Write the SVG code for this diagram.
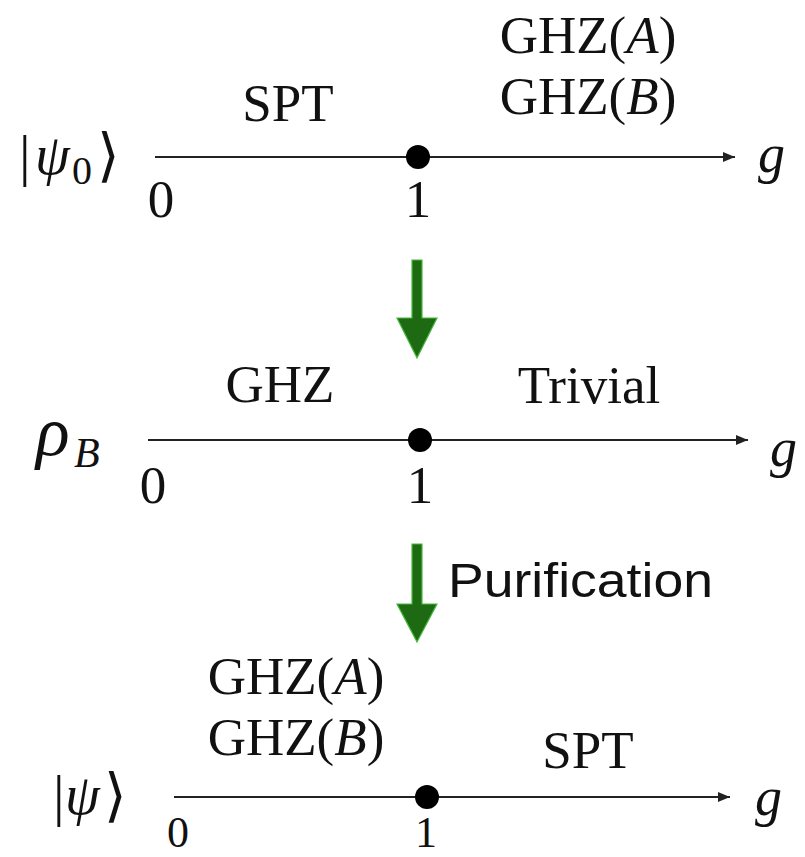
<svg xmlns="http://www.w3.org/2000/svg" width="805" height="857" viewBox="0 0 805 857">
<style>
.m{font-family:"Liberation Serif","DejaVu Serif",serif;fill:#111;}
.lab{font-size:53px;text-anchor:middle;}
.i{font-style:italic;}
.ax{stroke:#222;stroke-width:2;fill:none;}
.dot{fill:#000;}
.garrow{fill:#1d6a12;stroke:#46b83c;stroke-width:1.2;}
.sans{font-family:"Liberation Sans",Arial,sans-serif;fill:#111;}
</style>
<defs>
<marker id="ah" viewBox="0 0 12 10" refX="12" refY="5" markerWidth="12" markerHeight="10" markerUnits="userSpaceOnUse" orient="auto">
<path d="M0,0 L12,5 L0,10 Z" fill="#222"/>
</marker>
</defs>
<rect width="805" height="857" fill="#fff"/>

<g id="connectors">
<line class="ax" x1="155" y1="157" x2="735" y2="157" marker-end="url(#ah)"/>
<line class="ax" x1="148" y1="440" x2="748" y2="440" marker-end="url(#ah)"/>
<line class="ax" x1="174" y1="797" x2="730" y2="797" marker-end="url(#ah)"/>
<polygon id="arrow1" class="garrow" points="412,260 422,260 422,318 437,318 417,358 397,318 412,318"/>
<polygon id="arrow2" class="garrow" points="412,544 422,544 422,604 437,604 417,642 397,604 412,604"/>
</g>

<g id="row1">
<text class="m" x="19" y="175" font-size="58">|</text>
<text class="m i" x="35" y="174" font-size="56">ψ</text>
<text class="m" x="72" y="184" font-size="40">0</text>
<text class="m" x="97" y="175" font-size="58">⟩</text>
<text class="m lab" x="288" y="121">SPT</text>
<text class="m lab" x="588" y="53">GHZ(<tspan class="i">A</tspan>)</text>
<text class="m lab" x="588" y="114">GHZ(<tspan class="i">B</tspan>)</text>
<circle class="dot" cx="418" cy="157" r="12"/>
<text class="m lab" x="161" y="217">0</text>
<text class="m lab" x="418" y="217">1</text>
<text class="m i" x="758" y="172" font-size="54">g</text>
</g>

<g id="row2">
<text class="m i" x="36" y="455" font-size="70">ρ</text>
<text class="m i" x="74" y="467" font-size="42">B</text>
<text class="m lab" x="280" y="402">GHZ</text>
<text class="m lab" x="589" y="403">Trivial</text>
<circle class="dot" cx="420" cy="440" r="12"/>
<text class="m lab" x="153" y="503">0</text>
<text class="m lab" x="420" y="503">1</text>
<text class="m i" x="770" y="466" font-size="54">g</text>
</g>

<g id="purification">
<text class="sans" x="448" y="597" font-size="49" textLength="265" lengthAdjust="spacingAndGlyphs">Purification</text>
</g>

<g id="row3">
<text class="m" x="53" y="815" font-size="58">|</text>
<text class="m i" x="65" y="814" font-size="56">ψ</text>
<text class="m" x="104" y="815" font-size="58">⟩</text>
<text class="m lab" x="296" y="694">GHZ(<tspan class="i">A</tspan>)</text>
<text class="m lab" x="296" y="755">GHZ(<tspan class="i">B</tspan>)</text>
<text class="m lab" x="588" y="768">SPT</text>
<circle class="dot" cx="427" cy="797" r="12"/>
<text class="m" x="178" y="847" font-size="44" text-anchor="middle">0</text>
<text class="m" x="426" y="847" font-size="44" text-anchor="middle">1</text>
<text class="m i" x="755" y="815" font-size="54">g</text>
</g>
</svg>
